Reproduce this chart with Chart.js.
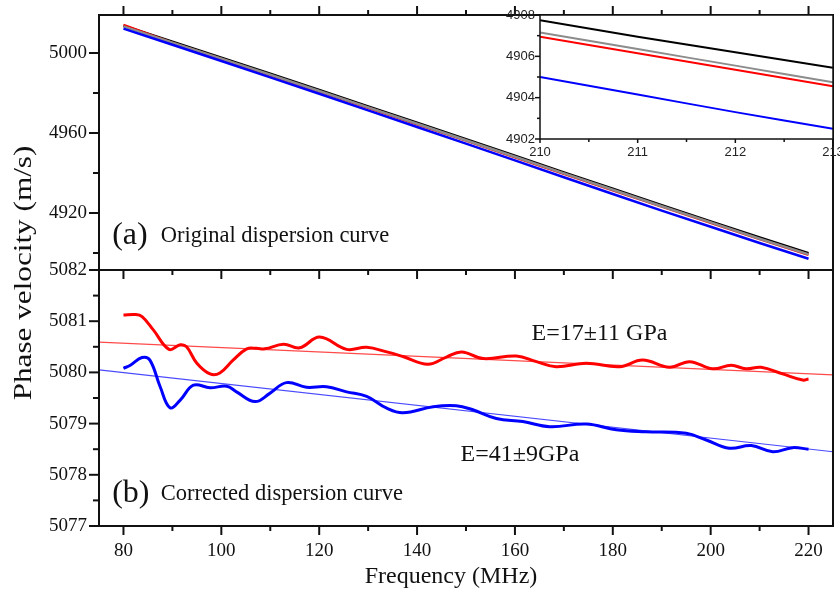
<!DOCTYPE html>
<html>
<head>
<meta charset="utf-8">
<script src="https://cdn.jsdelivr.net/npm/chart.js@4.4.0/dist/chart.umd.min.js"></script>
<style>
  html, body { margin: 0; padding: 0; background: #fff; }
  #wrap { position: relative; width: 840px; height: 592px; overflow: hidden; background: #fff; }
  #mainChart { position: absolute; left: 0; top: 0; }
  #insetChart { position: absolute; left: 490px; top: 0; }
</style>
</head>
<body>
<div id="wrap">
  <canvas id="mainChart" width="840" height="592"></canvas>
  <canvas id="insetChart" width="365" height="170"></canvas>
</div>
<script>
// ---- tick labels ----
const freqTicks = [80, 100, 120, 140, 160, 180, 200, 220];
const freqMinor = [90, 110, 130, 150, 170, 190, 210];
const velTicksA = [4920, 4960, 5000];
const velMinorA = [4900, 4940, 4980];
const velTicksB = [5077, 5078, 5079, 5080, 5081, 5082];
const velMinorB = [5077.5, 5078.5, 5079.5, 5080.5, 5081.5];

// ---- (a) original dispersion curves ----
const freqA = [80, 90, 100, 110, 120, 130, 140, 150, 160, 170, 180, 190, 200, 210, 220];
const blackA = [5013.6, 5005.6, 4997.7, 4989.6, 4981.5, 4973.3, 4965.1, 4956.9, 4948.6, 4940.3, 4932.1, 4923.9, 4915.8, 4907.75, 4899.9];
const grayA  = [5013.3, 5005.2, 4997.2, 4989.1, 4981.0, 4972.8, 4964.6, 4956.4, 4948.1, 4939.8, 4931.6, 4923.4, 4915.3, 4907.15, 4899.3];
const redA   = [5014.0, 5005.0, 4997.0, 4988.9, 4980.8, 4972.6, 4964.4, 4956.2, 4947.9, 4939.6, 4931.4, 4923.2, 4915.1, 4906.95, 4899.1];
const blueA  = [5012.2, 5004.1, 4996.0, 4987.8, 4979.6, 4971.3, 4963.0, 4954.7, 4946.3, 4937.9, 4929.5, 4921.2, 4913.1, 4905.0, 4897.1];

// ---- inset (zoom 210-213 MHz) ----
const insetFreq = [210, 211, 212, 213];
const insetBlack = [4907.75, 4906.95, 4906.2, 4905.45];
const insetGray  = [4907.15, 4906.35, 4905.55, 4904.75];
const insetRed   = [4906.95, 4906.15, 4905.35, 4904.55];
const insetBlue  = [4905.0, 4904.15, 4903.3, 4902.5];
const insetXTicks = [210, 211, 212, 213];
const insetXMinor = [210.5, 211.5, 212.5];
const insetYTicks = [4902, 4904, 4906, 4908];
const insetYMinor = [4903, 4905, 4907];

// ---- (b) corrected dispersion curves ----
const freqRed = [80, 82.4, 83.8, 86.1, 89.3, 91.6, 92.9, 95.0, 97.7, 99.7, 102.4, 105.2, 107.2, 108.9, 112.7, 116.0, 120.1, 125.6, 129.7, 133.8, 137.1, 142.2, 146.0, 149.1, 153.5, 160.3, 164.4, 168.4, 174.6, 181.4, 186.1, 191.6, 195.7, 200.4, 204.2, 207.2, 210.3, 214.7, 218.8, 220];
const velRed  = [5081.12, 5081.13, 5081.09, 5080.83, 5080.45, 5080.54, 5080.50, 5080.18, 5079.97, 5079.99, 5080.24, 5080.46, 5080.47, 5080.46, 5080.55, 5080.48, 5080.69, 5080.45, 5080.49, 5080.40, 5080.31, 5080.16, 5080.30, 5080.40, 5080.27, 5080.32, 5080.21, 5080.11, 5080.18, 5080.11, 5080.24, 5080.10, 5080.21, 5080.07, 5080.14, 5080.07, 5080.10, 5079.97, 5079.85, 5079.87];
const freqBlue = [80, 81.4, 83.8, 85.4, 87.5, 89.5, 91.6, 94.3, 97.7, 101.1, 103.1, 106.9, 109.9, 113.3, 117.4, 121.5, 125.6, 129.7, 133.8, 137.1, 143.3, 148.0, 151.4, 156.2, 161.6, 167.1, 174.6, 180.7, 186.8, 195.0, 199.1, 203.8, 208.3, 212.7, 216.7, 220];
const velBlue  = [5080.08, 5080.14, 5080.29, 5080.24, 5079.72, 5079.31, 5079.46, 5079.75, 5079.70, 5079.73, 5079.62, 5079.43, 5079.59, 5079.80, 5079.71, 5079.72, 5079.62, 5079.53, 5079.30, 5079.21, 5079.33, 5079.35, 5079.27, 5079.10, 5079.04, 5078.94, 5078.99, 5078.88, 5078.84, 5078.81, 5078.68, 5078.52, 5078.57, 5078.45, 5078.53, 5078.50];
// linear fits (end points at the axis edges)
const fitFreq = [75, 225];
const fitRed  = [5080.59, 5079.95];
const fitBlue = [5080.05, 5078.45];

const pts = (xs, ys) => xs.map((x, i) => ({ x: x, y: ys[i] }));
const SERIF = "'Liberation Serif', 'Times New Roman', serif";
const SANS = "'Liberation Sans', Arial, sans-serif";

function line(ctx, x1, y1, x2, y2) {
  ctx.beginPath();
  ctx.moveTo(x1, y1);
  ctx.lineTo(x2, y2);
  ctx.stroke();
}

// frame + outward ticks for the two stacked panels
const framePlugin = {
  id: 'frame',
  afterDraw(chart) {
    const { ctx, chartArea: a, scales } = chart;
    const x = scales.x, ya = scales.ya, yb = scales.yb;
    ctx.save();
    ctx.strokeStyle = '#111';
    ctx.lineWidth = 2;
    ctx.strokeRect(a.left, a.top, a.right - a.left, a.bottom - a.top);
    line(ctx, a.left, yb.top, a.right, yb.top);

    const xTick = (vals, len) => vals.forEach(f => {
      const px = x.getPixelForValue(f);
      line(ctx, px, a.bottom, px, a.bottom + len);
      line(ctx, px, yb.top, px, yb.top + len);
      line(ctx, px, a.top, px, a.top - len);
    });
    xTick(freqTicks, 9);
    xTick(freqMinor, 5);

    const yTick = (scale, vals, len) => vals.forEach(v => {
      const py = scale.getPixelForValue(v);
      line(ctx, a.left - len, py, a.left, py);
    });
    yTick(ya, velTicksA, 10);
    yTick(ya, velMinorA, 6);
    yTick(yb, velTicksB, 10);
    yTick(yb, velMinorB, 6);
    ctx.restore();
  }
};

// axis titles and panel notes
const textPlugin = {
  id: 'notes',
  afterDraw(chart) {
    const { ctx, scales } = chart;
    const x = scales.x, ya = scales.ya, yb = scales.yb;
    ctx.save();
    ctx.fillStyle = '#111';
    ctx.textBaseline = 'middle';

    ctx.font = '24px ' + SERIF;
    ctx.textAlign = 'center';
    ctx.fillText('Frequency (MHz)', 451, 577);

    ctx.save();
    ctx.translate(24, 273);
    ctx.rotate(-Math.PI / 2);
    ctx.scale(1.2, 1);
    ctx.font = '26px ' + SERIF;
    ctx.fillText('Phase velocity (m/s)', 0, 0);
    ctx.restore();

    ctx.textAlign = 'left';
    ctx.font = '32px ' + SERIF;
    ctx.fillText('(a)', x.getPixelForValue(77.7), ya.getPixelForValue(4908.5));
    ctx.fillText('(b)', x.getPixelForValue(77.7), yb.getPixelForValue(5077.63));
    ctx.font = '22.5px ' + SERIF;
    ctx.fillText('Original dispersion curve', x.getPixelForValue(87.6), ya.getPixelForValue(4908.5));
    ctx.fillText('Corrected dispersion curve', x.getPixelForValue(87.6), yb.getPixelForValue(5077.63));

    ctx.font = '24px ' + SERIF;
    ctx.fillText('E=17\u00b111 GPa', x.getPixelForValue(163.4), yb.getPixelForValue(5080.75));
    ctx.fillText('E=41\u00b19GPa', x.getPixelForValue(148.9), yb.getPixelForValue(5078.39));
    ctx.restore();
  }
};

const setTicks = vals => scale => { scale.ticks = vals.map(v => ({ value: v })); };
const noGrid = { display: false, drawTicks: false };
// fixed axis box sizes, no extra label padding around the plot area
const fixWidth = w => s => { s.width = w; s.paddingTop = 0; s.paddingBottom = 0; };
const fixHeight = h => s => { s.height = h; s.paddingLeft = 0; s.paddingRight = 0; };

new Chart(document.getElementById('mainChart'), {
  type: 'line',
  data: {
    datasets: [
      { data: pts(freqRed, velRed), yAxisID: 'yb', borderColor: '#ff0000', borderWidth: 3, tension: 0.4 },
      { data: pts(freqBlue, velBlue), yAxisID: 'yb', borderColor: '#0000ff', borderWidth: 3, tension: 0.4 },
      { data: pts(fitFreq, fitRed), yAxisID: 'yb', borderColor: '#ff4a4a', borderWidth: 1.2 },
      { data: pts(fitFreq, fitBlue), yAxisID: 'yb', borderColor: '#4a4aff', borderWidth: 1.2 },
      { data: pts(freqA, blueA), yAxisID: 'ya', borderColor: '#0000ff', borderWidth: 2.5 },
      { data: pts(freqA, grayA), yAxisID: 'ya', borderColor: '#8c8c8c', borderWidth: 2.5 },
      { data: pts(freqA, redA), yAxisID: 'ya', borderColor: '#ff0000', borderWidth: 2.5 },
      { data: pts(freqA, blackA), yAxisID: 'ya', borderColor: '#000000', borderWidth: 2.5 }
    ]
  },
  options: {
    responsive: false,
    animation: false,
    events: [],
    layout: { padding: { top: 15, right: 7, bottom: 0, left: 0 } },
    plugins: { legend: { display: false }, tooltip: { enabled: false } },
    elements: { point: { radius: 0 }, line: { fill: false } },
    scales: {
      x: {
        type: 'linear', min: 75, max: 225,
        grid: noGrid, border: { display: false },
        ticks: { font: { family: SERIF, size: 19 }, color: '#111', padding: 14, maxRotation: 0, callback: v => String(v) },
        afterBuildTicks: setTicks(freqTicks),
        afterFit: fixHeight(66)
      },
      yb: {
        type: 'linear', position: 'left', stack: 'panels', stackWeight: 256,
        min: 5077, max: 5082,
        grid: noGrid, border: { display: false },
        ticks: { font: { family: SERIF, size: 19 }, color: '#111', padding: 12, callback: v => String(v) },
        afterBuildTicks: setTicks(velTicksB),
        afterFit: fixWidth(99)
      },
      ya: {
        type: 'linear', position: 'left', stack: 'panels', stackWeight: 255,
        min: 4891.5, max: 5019,
        grid: noGrid, border: { display: false },
        ticks: { font: { family: SERIF, size: 19 }, color: '#111', padding: 12, callback: v => String(v) },
        afterBuildTicks: setTicks(velTicksA),
        afterFit: fixWidth(99)
      }
    }
  },
  plugins: [framePlugin, textPlugin]
});

// inset: white box, frame and small ticks
const insetPlugin = {
  id: 'insetFrame',
  beforeDatasetsDraw(chart) {
    const { ctx, chartArea: a } = chart;
    ctx.save();
    ctx.fillStyle = '#fff';
    ctx.fillRect(a.left, a.top, a.right - a.left, a.bottom - a.top);
    ctx.restore();
  },
  afterDraw(chart) {
    const { ctx, chartArea: a, scales } = chart;
    ctx.save();
    ctx.strokeStyle = '#111';
    ctx.lineWidth = 1.5;
    ctx.strokeRect(a.left, a.top, a.right - a.left, a.bottom - a.top);
    insetXTicks.concat(insetXMinor).forEach((f, i) => {
      const px = scales.x.getPixelForValue(f);
      line(ctx, px, a.bottom, px, a.bottom + (i < insetXTicks.length ? 4 : 3));
    });
    insetYTicks.concat(insetYMinor).forEach((v, i) => {
      const py = scales.y.getPixelForValue(v);
      line(ctx, a.left - (i < insetYTicks.length ? 5 : 3), py, a.left, py);
    });
    ctx.restore();
  }
};

new Chart(document.getElementById('insetChart'), {
  type: 'line',
  data: {
    datasets: [
      { data: pts(insetFreq, insetBlue), borderColor: '#0000ff', borderWidth: 2 },
      { data: pts(insetFreq, insetRed), borderColor: '#ff0000', borderWidth: 2 },
      { data: pts(insetFreq, insetGray), borderColor: '#8c8c8c', borderWidth: 2 },
      { data: pts(insetFreq, insetBlack), borderColor: '#000000', borderWidth: 2 }
    ]
  },
  options: {
    responsive: false,
    animation: false,
    events: [],
    layout: { padding: { top: 15, right: 22, bottom: 0, left: 0 } },
    plugins: { legend: { display: false }, tooltip: { enabled: false } },
    elements: { point: { radius: 0 }, line: { fill: false, tension: 0.2 } },
    scales: {
      x: {
        type: 'linear', min: 210, max: 213,
        grid: noGrid, border: { display: false },
        ticks: { font: { family: SANS, size: 13 }, color: '#222', padding: 6, maxRotation: 0, callback: v => String(v) },
        afterBuildTicks: setTicks(insetXTicks),
        afterFit: fixHeight(31)
      },
      y: {
        type: 'linear', min: 4902, max: 4908,
        grid: noGrid, border: { display: false },
        ticks: { font: { family: SANS, size: 13 }, color: '#222', padding: 5, callback: v => String(v) },
        afterBuildTicks: setTicks(insetYTicks),
        afterFit: fixWidth(50)
      }
    }
  },
  plugins: [insetPlugin]
});
</script>
</body>
</html>
